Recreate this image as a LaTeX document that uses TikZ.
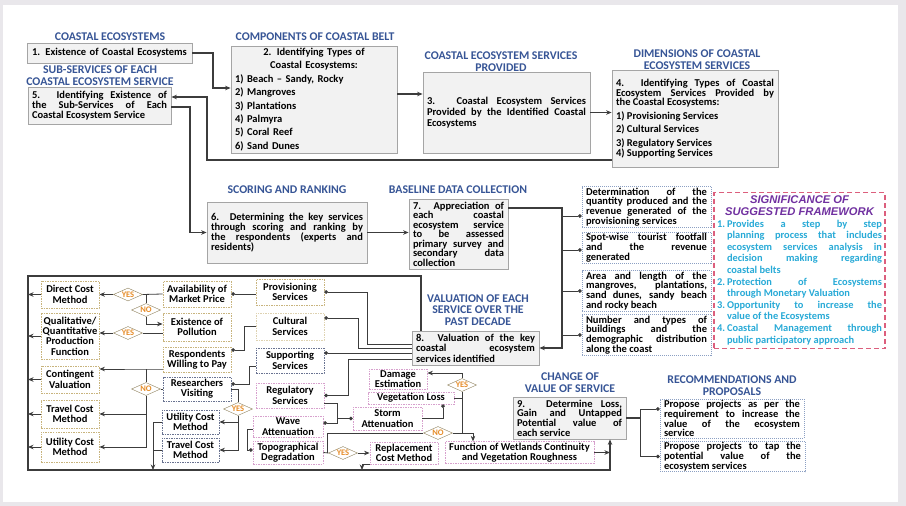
\documentclass[tikz,border=0pt]{standalone}
\usepackage{fontspec}
\setmainfont{Carlito}
\newfontfamily\sigfont{Liberation Sans}
\usetikzlibrary{shapes.geometric,arrows.meta}

\definecolor{ttlblue}{RGB}{55,85,150}
\definecolor{boxgrey}{RGB}{242,242,242}
\definecolor{boxline}{RGB}{165,165,165}
\definecolor{wirec}{RGB}{60,60,60}
\definecolor{khaki}{RGB}{200,180,125}
\definecolor{dotblue}{RGB}{140,160,195}
\definecolor{slate}{RGB}{105,115,145}
\definecolor{orchid}{RGB}{215,160,205}
\definecolor{sigred}{RGB}{220,95,125}
\definecolor{sigpurple}{RGB}{112,48,160}
\definecolor{sigcyan}{RGB}{40,170,215}
\definecolor{yesorange}{RGB}{230,140,40}
\definecolor{bggrey}{RGB}{233,231,235}

\newcommand{\listline}[1]{\makebox[\hsize][l]{#1}}
\newcommand{\sigitem}[2]{\hangindent=10pt\hangafter=1\noindent\makebox[10pt][l]{#1}#2\par}
\newcommand{\sigtitle}[1]{\noindent\makebox[\hsize][c]{#1}\par}
\newcommand{\boxfont}[1]{\bfseries\fontsize{10.5}{#1}\selectfont\lineskiplimit=-6pt}
\newcommand{\sigtext}{\bfseries\fontsize{10.4}{11.6}\selectfont\lineskiplimit=-6pt}

\begin{document}
\begin{tikzpicture}
    [x=1pt,y=-1pt,>={Stealth[length=5.5pt,width=4.5pt]},
    box/.style={draw=boxline,fill=boxgrey,line width=0.8pt,inner xsep=4pt,inner ysep=2pt,
        font=\boxfont{10},align=justify},
    ttl/.style={text=ttlblue,font=\bfseries\fontsize{11.8}{11.8}\selectfont,align=center},
    note/.style={draw=dotblue,dash pattern=on 1pt off 1pt,line width=0.7pt,inner xsep=4pt,inner ysep=1pt,
        font=\boxfont{9.8},align=justify},
    tanbox/.style={draw=khaki,dash pattern=on 1.5pt off 1pt,line width=0.8pt,inner sep=1pt,
        font=\boxfont{10.4},align=center},
    slatebox/.style={tanbox,draw=slate},
    pinkbox/.style={tanbox,draw=orchid},
    dia/.style={diamond,aspect=2,draw=khaki!70!black,fill=white,inner sep=0pt,
        minimum width=29pt,minimum height=13pt,text=yesorange,font=\bfseries\fontsize{8.5}{8.5}\selectfont},
    flow/.style={draw=wirec,line width=1.3pt},
    link/.style={draw=wirec,line width=0.8pt},
    dotstart/.style={{Circle[length=3.6pt]}-},
    dotend/.style={-{Circle[length=3.6pt]}}]

    %Background
    \useasboundingbox (0,0) rectangle (906,506);
    \fill[bggrey] (0,0) rectangle (906,506);
    \fill[white] (3,5) rectangle (898,502);

    %Titles
    \node[ttl] (tEco) at (110,37){COASTAL ECOSYSTEMS};
    \node[ttl] (tBelt) at (315,37){COMPONENTS OF COASTAL BELT};
    \node[ttl] (tProv) at (501,61.5){COASTAL ECOSYSTEM SERVICES\\PROVIDED};
    \node[ttl] (tDim) at (697,60){DIMENSIONS OF COASTAL\\ECOSYSTEM SERVICES};
    \node[ttl] (tSub) at (100,75.5){SUB-SERVICES OF EACH\\COASTAL ECOSYSTEM SERVICE};
    \node[ttl] (tScore) at (287,190){SCORING AND RANKING};
    \node[ttl] (tBase) at (458,190){BASELINE DATA COLLECTION};
    \node[ttl] (tVal) at (478,310){VALUATION OF EACH\\SERVICE OVER THE\\PAST DECADE};
    \node[ttl] (tChange) at (570,382.5){CHANGE OF\\VALUE OF SERVICE};
    \node[ttl] (tRec) at (732,386){RECOMMENDATIONS AND\\PROPOSALS};

    %Steps
    \node[box,align=center,text width=157pt,minimum height=20pt] (st1) at (109.5,53){1. Existence of Coastal Ecosystems};
    \node[box,align=center,text width=158pt,minimum height=107pt,font=\boxfont{13.4}] (st2) at (314,99.5)
        {2. Identifying Types of\\Coastal Ecosystems:\\\listline{1) Beach -- Sandy, Rocky}\\\listline{2) Mangroves}\\
        \listline{3) Plantations}\\\listline{4) Palmyra}\\\listline{5) Coral Reef}\\\listline{6) Sand Dunes}};
    \node[box,text width=159pt,minimum height=81pt,font=\boxfont{11}] (st3) at (506.5,112.5)
        {3. Coastal Ecosystem Services\linebreak Provided by the Identified Coastal\linebreak Ecosystems};
    \node[box,text width=158pt,minimum height=97pt] (st4) at (695,118.5)
        {\boxfont{9.6}4. Identifying Types of Coastal\linebreak Ecosystem Services Provided by\linebreak the Coastal Ecosystems:\par
        \boxfont{13.5}1) Provisioning Services\par 2) Cultural Services\par 3) Regulatory Services\par 4) Supporting Services};
    \node[box,text width=135pt,minimum height=37pt] (st5) at (99.5,105.5)
        {5. Identifying Existence of\linebreak the Sub-Services of Each\linebreak Coastal Ecosystem Service};
    \node[box,text width=152pt,minimum height=61pt] (st6) at (287,232.5)
        {6. Determining the key services\linebreak through scoring and ranking by\linebreak the respondents (experts and\linebreak residents)};
    \node[box,text width=91pt,minimum height=70pt,font=\boxfont{9.5}] (st7) at (458.5,234)
        {7. Appreciation of\linebreak each coastal\linebreak ecosystem service\linebreak to be assessed\linebreak primary survey and\linebreak secondary data\linebreak collection};
    \node[box,text width=119pt,minimum height=34pt,font=\boxfont{10.4}] (st8) at (475.5,348)
        {8. Valuation of the key\linebreak coastal ecosystem\linebreak services identified};
    \node[box,text width=105pt,minimum height=42pt,font=\boxfont{9.7}] (st9) at (569.5,418)
        {9. Determine Loss,\linebreak Gain and Untapped\linebreak Potential value of\linebreak each service};

    %Baseline notes
    \node[note,text width=121pt,minimum height=40pt] (det) at (646.5,207)
        {Determination of the\linebreak quantity produced and the\linebreak revenue generated of the\linebreak provisioning services};
    \node[note,text width=121pt,minimum height=31pt] (spot) at (646.5,247.5)
        {Spot-wise tourist footfall\linebreak and the revenue\linebreak generated};
    \node[note,text width=121pt,minimum height=40pt] (area) at (646.5,291)
        {Area and length of the\linebreak mangroves, plantations,\linebreak sand dunes, sandy beach\linebreak and rocky beach};
    \node[note,text width=121pt,minimum height=40pt] (build) at (646.5,335)
        {Number and types of\linebreak buildings and the\linebreak demographic distribution\linebreak along the coast};

    %Proposals
    \node[note,text width=136pt,minimum height=39pt] (prop1) at (732,418.5)
        {Propose projects as per the\linebreak requirement to increase the\linebreak value of the ecosystem\linebreak service};
    \node[note,text width=137pt,minimum height=29pt] (prop2) at (732.5,456.5)
        {Propose projects to tap the\linebreak potential value of the\linebreak ecosystem services};

    %Significance
    \node[draw=sigred,dash pattern=on 5pt off 3pt,line width=1.1pt,inner xsep=3pt,inner ysep=3pt,
        text width=165pt,minimum height=156pt,align=justify,font=\sigtext] (sig) at (799.5,270.5)
        {{\sigfont\bfseries\itshape\color{sigpurple}\fontsize{11.2}{11.6}\selectfont
        \sigtitle{SIGNIFICANCE OF}\sigtitle{SUGGESTED FRAMEWORK}}
        \color{sigcyan}
        \sigitem{1.}{Provides a step by step\linebreak planning process that includes\linebreak ecosystem services analysis in\linebreak decision making regarding\linebreak coastal belts}
        \sigitem{2.}{Protection of Ecosystems\linebreak through Monetary Valuation}
        \sigitem{3.}{Opportunity to increase the\linebreak value of the Ecosystems}
        \sigitem{4.}{Coastal Management through\linebreak public participatory approach}};

    %Methods
    \node[tanbox,minimum width=58pt,minimum height=27pt] (dcost) at (70,294.5){Direct Cost\\Method};
    \node[tanbox,minimum width=58pt,minimum height=46pt] (prodfn) at (70,336){Qualitative/\\Quantitative\\Production\\Function};
    \node[tanbox,minimum width=58pt,minimum height=27pt] (conting) at (70,379.5){Contingent\\Valuation};
    \node[tanbox,minimum width=58pt,minimum height=28pt] (travel) at (70,414){Travel Cost\\Method};
    \node[tanbox,minimum width=58pt,minimum height=30pt] (utility) at (70,447){Utility Cost\\Method};

    %Conditions
    \node[tanbox,minimum width=68pt,minimum height=26pt] (market) at (197,294){Availability of\\Market Price};
    \node[tanbox,minimum width=68pt,minimum height=28pt] (pollut) at (197,327){Existence of\\Pollution};
    \node[tanbox,minimum width=68pt,minimum height=25pt] (willing) at (197,359.5){Respondents\\Willing to Pay};
    \node[slatebox,minimum width=68pt,minimum height=24pt] (visit) at (197,389){Researchers\\Visiting};
    \node[slatebox,minimum width=57pt,minimum height=24pt] (utilb) at (190.5,422){Utility Cost\\Method};
    \node[slatebox,minimum width=57pt,minimum height=24pt] (travelb) at (190.5,450){Travel Cost\\Method};

    %Services
    \node[tanbox,minimum width=68pt,minimum height=26pt] (prov) at (290,292){Provisioning\\Services};
    \node[tanbox,draw=khaki!60,minimum width=68pt,minimum height=27pt] (cult) at (290,326.5){Cultural\\Services};
    \node[slatebox,minimum width=68pt,minimum height=25pt] (supp) at (290,360.5){Supporting\\Services};
    \node[pinkbox,minimum width=68pt,minimum height=25pt] (regul) at (290,395.5){Regulatory\\Services};
    \node[pinkbox,minimum width=70pt,minimum height=21pt] (wave) at (288,426.5){Wave\\Attenuation};
    \node[pinkbox,minimum width=70pt,minimum height=23pt] (topo) at (288,452.5){Topographical\\Degradation};

    %Regulating effects
    \node[pinkbox,minimum width=58pt,minimum height=20pt] (damage) at (398,379){Damage\\Estimation};
    \node[pinkbox,minimum width=86pt,minimum height=12pt,inner ysep=0pt] (vegloss) at (411,398){Vegetation Loss};
    \node[pinkbox,minimum width=69pt,minimum height=23pt] (storm) at (387.5,418.5){Storm\\Attenuation};
    \node[pinkbox,minimum width=68pt,minimum height=22pt] (replace) at (404,453){Replacement\\Cost Method};
    \node[pinkbox,minimum width=149pt,minimum height=21pt] (wetland) at (519.5,452.5){Function of Wetlands Continuity\\and Vegetation Roughness};

    %Decisions
    \node[dia] (yesA) at (128,294.5){YES};
    \node[dia] (noA) at (146,310){NO};
    \node[dia] (yesB) at (128,333){YES};
    \node[dia] (noB) at (146,389){NO};
    \node[dia] (yesC) at (238,409){YES};
    \node[dia] (yesD) at (462,385){YES};
    \node[dia] (noC) at (438,433){NO};
    \node[dia] (yesE) at (343,453){YES};

    %Junctions
    \coordinate (k1) at (213,88);
    \coordinate (k2) at (207,160);
    \coordinate (k3) at (190,232.5);
    \coordinate (k4) at (562,348);
    \coordinate (k5) at (640,418);
    \coordinate (fTL) at (28,276);
    \coordinate (fTR) at (421,276);
    \coordinate (fBL) at (28,470);
    \coordinate (fBR) at (610,470);
    \coordinate (k6) at (146,369);
    \coordinate (k8) at (244,350);
    \coordinate (k9) at (249,384);
    \coordinate (k10) at (153,470);
    \coordinate (k11) at (367,344);
    \coordinate (k12) at (358,348);
    \coordinate (k13) at (348,359);
    \coordinate (k14) at (337,418.5);
    \coordinate (k15) at (247,450);
    \coordinate (k16) at (327,433);
    \coordinate (k17) at (473,433);
    \coordinate (k19) at (362,470);

    %Edges
    \draw[flow,->] (st1.east) -| (k1) -- (k1 -| st2.west);
    \draw[flow,->] ([yshift=5.5pt]st2.east) -- ([yshift=5.5pt]st2.east -| st3.west);
    \draw[flow,->] (st3.east) -- (st3.east -| st4.west);
    \draw[flow,->] ([yshift=-41.5pt]st4.west) -- (k2) |- ([yshift=8.5pt]st5.east);
    \draw[flow,->] ([yshift=-1.5pt]st5.east) -| (k3) -- (st6.west);
    \draw[flow,->] (st6.east) -- (st6.east -| st7.west);
    \draw[flow,->] ([yshift=26pt]st7.east) -| (k4) -- (st8.east);
    \draw[link,dotstart] ([yshift=-9pt]det.west) -- ([yshift=-9pt]det.west -| k4);
    \draw[link,dotstart] ([yshift=-2.5pt]spot.west) -- ([yshift=-2.5pt]spot.west -| k4);
    \draw[link,dotstart] (area.west) -- (area.west -| k4);
    \draw[link,dotstart] (build.west) -- (build.west -| k4);
    \draw[flow] (st9.east) -- (k5);
    \draw[link,dotstart] ([yshift=9.5pt]prop1.west) -| (k5);
    \draw[link,dotstart] (prop2.west) -| (k5);

    %Frame
    \draw[flow,->] (st8.north -| fTR) -- (fTR) -- (fTL) -- (fBL) -- (fBR) -- (fBR |- st9.south);
    \draw[link,->] (dcost.west) -- (dcost.west -| fTL);
    \draw[link,->] (prodfn.west) -- (prodfn.west -| fTL);
    \draw[link,->] (conting.west) -- (conting.west -| fTL);
    \draw[link,->] (travel.west) -- (travel.west -| fTL);
    \draw[link,->] (utility.west) -- (utility.west -| fTL);
    \draw[link,->] (wetland.east) -- (wetland.east -| fBR);

    %Valuation choices
    \draw[link] (market.west) -- (yesA.east);
    \draw[link,->] (yesA.west) -- (dcost.east);
    \draw[link] (noA.north) -- (noA.north |- yesA.east);
    \draw[link,->] (noA.south) |- ([yshift=3pt]pollut.west);
    \draw[link] ([yshift=-6pt]pollut.west) -- (yesB.east);
    \draw[link,->] (yesB.west) -- (yesB.west -| prodfn.east);
    \draw[link,->] ([yshift=-9.5pt]willing.west) -- (k6) -- (k6 -| conting.east);
    \draw[link] (k6) -- (noB.north);
    \draw[link] (visit.west) -- (noB.east);
    \draw[link,->] (noB.south) |- (utility.east);
    \draw[link,->] (noB.south |- travel.east) -- (travel.east);
    \draw[link] (visit.east) -| (yesC.north);
    \draw[link,->] (yesC.south) |- (travelb.east);
    \draw[link,->] (yesC.south |- utilb.east) -- (utilb.east);
    \draw[link,->] (utilb.west) -| (k10);
    \draw[link] (travelb.west) -- (travelb.west -| k10);

    %Services to conditions
    \draw[link,dotstart] (market.east) -- (market.east -| prov.west);
    \draw[link,dotstart] ([yshift=9.5pt]willing.east) -- (k8) |- (cult.west);
    \draw[link,dotstart] ([yshift=5pt]visit.east) -- (k9) |- ([yshift=-5.5pt]supp.west);

    %Services to step 8
    \draw[link,dotstart] (prov.east) -| (k11) -- (k11 -| st8.west);
    \draw[link,dotstart] ([yshift=8.5pt]cult.east) -| (k12) -- (k12 -| st8.west);
    \draw[link,dotstart] ([yshift=7.5pt]supp.east) -- ([yshift=7.5pt]supp.east -| st8.west);
    \draw[link,dotstart] (regul.east) -| (k13) -- (k13 -| st8.west);

    %Regulatory branch
    \draw[link] ([yshift=-7.5pt]regul.east) -| (k14);
    \draw[link,dotstart] ([yshift=3.5pt]wave.east) -| (k14);
    \draw[link,dotend] (k14) -- (storm.west);
    \draw[link,dotstart] ([yshift=2.5pt]topo.west) -- (k15) |- ([yshift=-2.5pt]wave.west);
    \draw[link,dotend] (storm.east) -| ([xshift=32pt]vegloss.south);
    \draw[link] (vegloss.east) -- (vegloss.east -| yesD.south);
    \draw[link,->] (yesD.north) |- ([yshift=6pt]damage.east);
    \draw[link] (yesD.south) -- (yesD.south |- k17);
    \draw[link] (topo.east) -- (yesE.west);
    \draw[link,->] (yesE.east) -- (replace.west);
    \draw[link] (k16 |- yesE.west) -- (k16) -- (noC.west);
    \draw[link,->] (noC.east) -- (k17) -- (k17 |- wetland.north);
    \draw[link,->] (replace.south west) -| (k19);

\end{tikzpicture}
\end{document}
